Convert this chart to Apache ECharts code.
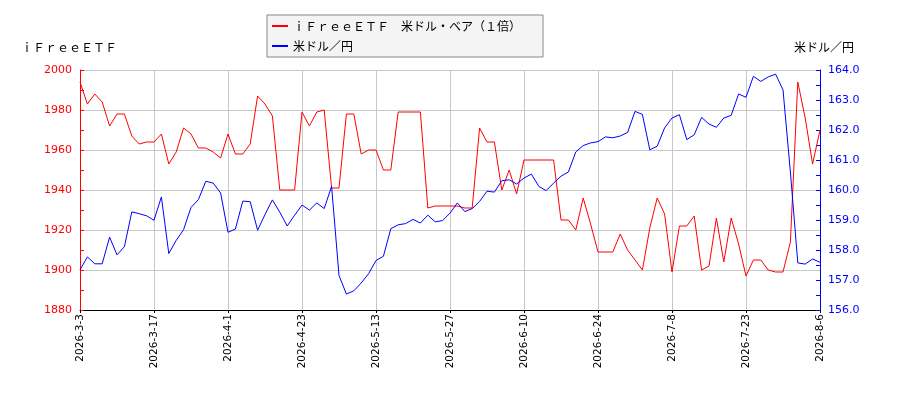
<!DOCTYPE html>
<html>
<head>
<meta charset="utf-8">
<script src="https://cdn.jsdelivr.net/npm/echarts@6/dist/echarts.min.js"></script>
<style>
  html, body { margin: 0; padding: 0; background: #fff; }
  #chart { width: 900px; height: 400px; }
</style>
</head>
<body>
<div id="chart"></div>
<script>
// 日付（営業日）
var dates = [
  '2026-3-3','2026-3-4','2026-3-5','2026-3-6','2026-3-9','2026-3-10','2026-3-11','2026-3-12','2026-3-13','2026-3-16',
  '2026-3-17','2026-3-18','2026-3-19','2026-3-23','2026-3-24','2026-3-25','2026-3-26','2026-3-27','2026-3-30','2026-3-31',
  '2026-4-1','2026-4-2','2026-4-6','2026-4-8','2026-4-10','2026-4-13','2026-4-15','2026-4-17','2026-4-20','2026-4-22',
  '2026-4-23','2026-4-24','2026-4-27','2026-4-28','2026-4-30','2026-5-1','2026-5-7','2026-5-8','2026-5-11','2026-5-12',
  '2026-5-13','2026-5-14','2026-5-15','2026-5-18','2026-5-19','2026-5-20','2026-5-21','2026-5-22','2026-5-25','2026-5-26',
  '2026-5-27','2026-5-28','2026-5-29','2026-6-1','2026-6-2','2026-6-3','2026-6-4','2026-6-5','2026-6-8','2026-6-9',
  '2026-6-10','2026-6-11','2026-6-12','2026-6-15','2026-6-16','2026-6-17','2026-6-18','2026-6-19','2026-6-22','2026-6-23',
  '2026-6-24','2026-6-25','2026-6-26','2026-6-29','2026-6-30','2026-7-1','2026-7-2','2026-7-3','2026-7-6','2026-7-7',
  '2026-7-8','2026-7-9','2026-7-10','2026-7-13','2026-7-14','2026-7-15','2026-7-16','2026-7-17','2026-7-21','2026-7-22',
  '2026-7-23','2026-7-24','2026-7-27','2026-7-28','2026-7-29','2026-7-30','2026-7-31','2026-8-3','2026-8-4','2026-8-5',
  '2026-8-6'
];
// ｉＦｒｅｅＥＴＦ 米ドル・ベア（１倍）
var etfName = 'ｉＦｒｅｅＥＴＦ　米ドル・ベア（１倍）';
var etf = [
  1994, 1983, 1988, 1984, 1972, 1978, 1978, 1967, 1963, 1964,
  1964, 1968, 1953, 1959, 1971, 1968, 1961, 1961, 1959, 1956,
  1968, 1958, 1958, 1963, 1987, 1983, 1977, 1940, 1940, 1940,
  1979, 1972, 1979, 1980, 1941, 1941, 1978, 1978, 1958, 1960,
  1960, 1950, 1950, 1979, 1979, 1979, 1979, 1931, 1932, 1932,
  1932, 1932, 1931, 1931, 1971, 1964, 1964, 1940, 1950, 1938,
  1955, 1955, 1955, 1955, 1955, 1925, 1925, 1920, 1936, 1923,
  1909, 1909, 1909, 1918, 1910, 1905, 1900, 1921, 1936, 1928,
  1899, 1922, 1922, 1927, 1900, 1902, 1926, 1904, 1926, 1913,
  1897, 1905, 1905, 1900, 1899, 1899, 1914, 1994, 1976, 1953,
  1970
];
// 米ドル／円
var usdName = '米ドル／円';
var usdjpy = [
  157.34, 157.77, 157.54, 157.54, 158.43, 157.84, 158.11, 159.27, 159.21, 159.14,
  158.99, 159.77, 157.88, 158.32, 158.68, 159.42, 159.68, 160.29, 160.23, 159.90,
  158.59, 158.70, 159.63, 159.61, 158.66, 159.18, 159.67, 159.26, 158.80, 159.16,
  159.50, 159.33, 159.57, 159.38, 160.12, 157.15, 156.53, 156.64, 156.90, 157.21,
  157.65, 157.79, 158.71, 158.84, 158.88, 159.02, 158.90, 159.16, 158.94, 158.98,
  159.23, 159.57, 159.28, 159.38, 159.62, 159.96, 159.93, 160.31, 160.34, 160.20,
  160.40, 160.53, 160.12, 159.98, 160.23, 160.46, 160.60, 161.27, 161.48, 161.57,
  161.61, 161.77, 161.74, 161.80, 161.92, 162.62, 162.52, 161.34, 161.46, 162.07,
  162.40, 162.51, 161.68, 161.84, 162.42, 162.20, 162.09, 162.40, 162.49, 163.20,
  163.09, 163.79, 163.62, 163.77, 163.86, 163.34, 160.60, 157.57, 157.53, 157.70,
  157.59
];

var cjkFont = '"Noto Sans CJK JP", sans-serif';
var myChart = echarts.init(document.getElementById('chart'));

var option = {
  animation: false,
  backgroundColor: '#fff',
  color: ['#ff0000', '#0000ff'],
  legend: {
    orient: 'vertical',
    left: 267,
    top: 15,
    padding: [3, 22, 3, 5],
    itemGap: 4,
    itemWidth: 16,
    itemHeight: 2,
    icon: 'rect',
    backgroundColor: '#f4f4f4',
    borderColor: '#888',
    borderWidth: 1,
    borderRadius: 0,
    textStyle: {
      fontFamily: cjkFont,
      fontSize: 12,
      lineHeight: 16,
      color: '#000'
    },
    data: [etfName, usdName]
  },
  grid: {
    left: 80,
    right: 80,
    top: 70,
    bottom: 90
  },
  xAxis: {
    type: 'category',
    boundaryGap: false,
    data: dates,
    axisLine: { lineStyle: { color: '#000', width: 1 } },
    axisTick: { show: true, interval: 9, length: 3, lineStyle: { color: '#000' } },
    axisLabel: {
      interval: 9,
      rotate: 90,
      margin: 4,
      fontFamily: 'DejaVu Sans',
      fontSize: 10.5,
      color: '#000'
    },
    splitLine: { show: true, interval: 9, lineStyle: { color: '#c8c8c8', width: 1 } }
  },
  yAxis: [{
    type: 'value',
    position: 'left',
    min: 1880,
    max: 2000,
    interval: 20,
    name: 'ｉＦｒｅｅＥＴＦ',
    nameLocation: 'end',
    nameGap: 17,
    nameTextStyle: {
      fontFamily: cjkFont,
      fontSize: 12,
      color: '#000',
      align: 'center',
      padding: [0, 22, 0, 0]
    },
    axisLine: { show: true, lineStyle: { color: '#ff0000', width: 1 } },
    axisTick: { show: true, inside: true, length: 4, lineStyle: { color: '#ff0000' } },
    minorTick: { show: true, splitNumber: 2, length: 4, lineStyle: { color: '#ff0000' } },
    axisLabel: {
      color: '#ff0000',
      fontFamily: 'DejaVu Sans',
      fontSize: 11,
      margin: 8,
      formatter: function (value) {
        return String(value);
      }
    },
    splitLine: { show: true, lineStyle: { color: '#c8c8c8', width: 1 } }
  }, {
    type: 'value',
    position: 'right',
    min: 156,
    max: 164,
    interval: 1,
    name: '米ドル／円',
    nameLocation: 'end',
    nameGap: 17,
    nameTextStyle: {
      fontFamily: cjkFont,
      fontSize: 12,
      color: '#000',
      align: 'center',
      padding: [0, 0, 0, 8]
    },
    axisLine: { show: true, lineStyle: { color: '#0000ff', width: 1 } },
    axisTick: { show: true, inside: true, length: 4, lineStyle: { color: '#0000ff' } },
    minorTick: { show: true, splitNumber: 2, length: 4, lineStyle: { color: '#0000ff' } },
    axisLabel: {
      color: '#0000ff',
      fontFamily: 'DejaVu Sans',
      fontSize: 11,
      margin: 8,
      formatter: function (value) {
        return value.toFixed(1);
      }
    },
    splitLine: { show: false }
  }],
  series: [{
    name: etfName,
    type: 'line',
    yAxisIndex: 0,
    symbol: 'none',
    lineStyle: { width: 1, color: '#ff0000' },
    data: etf
  }, {
    name: usdName,
    type: 'line',
    yAxisIndex: 1,
    symbol: 'none',
    lineStyle: { width: 1, color: '#0000ff' },
    data: usdjpy
  }]
};
myChart.setOption(option);
</script>
</body>
</html>
